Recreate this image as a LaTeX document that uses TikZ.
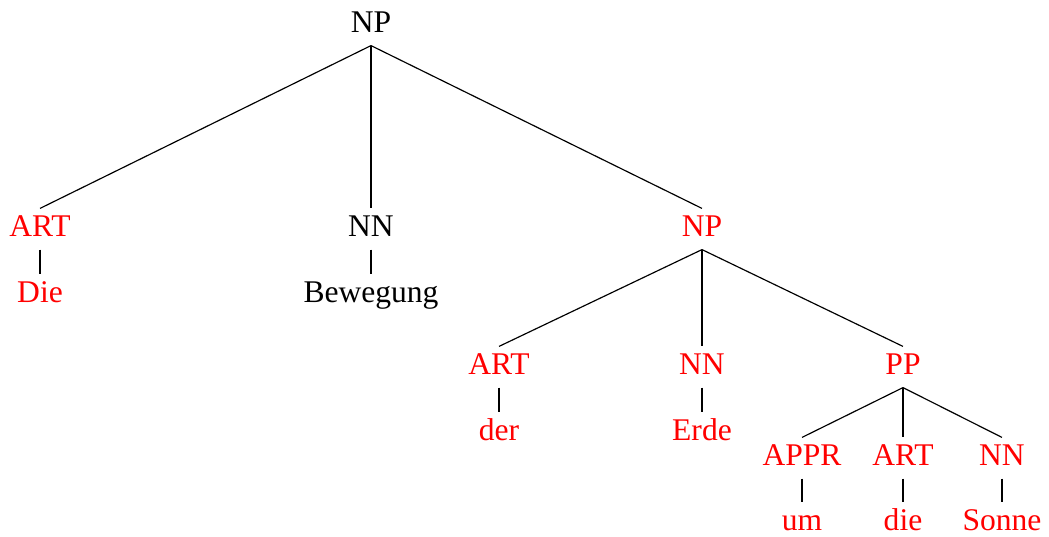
\documentclass[tikz,border=0pt]{standalone}
\usepackage{fontspec}
\setmainfont{Liberation Serif}
\begin{document}
\begin{tikzpicture}[x=0.339pt,y=-0.339pt,
  lbl/.style={anchor=base,inner sep=0pt,text height=27\pxu,text depth=13\pxu,font=\fontsize{10.7pt}{12pt}\selectfont},
  red/.style={text=red},
  edge/.style={draw=black,line width=0.4pt}]
\def\pxu{*0.339pt}
\useasboundingbox (0,0) rectangle (1049,536);
% root
\node[lbl] (np0) at (371,32) {NP};
% level 1
\node[lbl,red] (art1) at (40,236) {ART};
\node[lbl] (nn1) at (371,236) {NN};
\node[lbl,red] (np1) at (702,236) {NP};
\node[lbl,red] (die1) at (40,302) {Die};
\node[lbl] (bew) at (371,302) {Bewegung};
% level 2
\node[lbl,red] (art2) at (499,374) {ART};
\node[lbl,red] (nn2) at (702,374) {NN};
\node[lbl,red] (pp) at (903,374) {PP};
\node[lbl,red] (der) at (499,440) {der};
\node[lbl,red] (erde) at (702,440) {Erde};
% level 3
\node[lbl,red] (appr) at (802,465) {APPR};
\node[lbl,red] (art3) at (903,465) {ART};
\node[lbl,red] (nn3) at (1002,465) {NN};
\node[lbl,red] (um) at (802,530) {um};
\node[lbl,red] (die3) at (903,530) {die};
\node[lbl,red] (sonne) at (1002,530) {Sonne};
% edges
\draw[edge] (np0.south) -- (art1.north);
\draw[edge] (np0.south) -- (nn1.north);
\draw[edge] (np0.south) -- (np1.north);
\draw[edge] (art1.south) -- (die1.north);
\draw[edge] (nn1.south) -- (bew.north);
\draw[edge] (np1.south) -- (art2.north);
\draw[edge] (np1.south) -- (nn2.north);
\draw[edge] (np1.south) -- (pp.north);
\draw[edge] (art2.south) -- (der.north);
\draw[edge] (nn2.south) -- (erde.north);
\draw[edge] (pp.south) -- (appr.north);
\draw[edge] (pp.south) -- (art3.north);
\draw[edge] (pp.south) -- (nn3.north);
\draw[edge] (appr.south) -- (um.north);
\draw[edge] (art3.south) -- (die3.north);
\draw[edge] (nn3.south) -- (sonne.north);
\end{tikzpicture}
\end{document}
